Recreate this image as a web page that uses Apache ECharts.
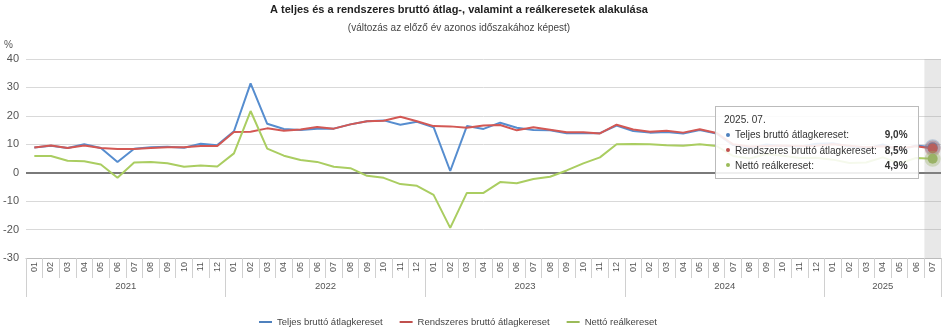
<!DOCTYPE html>
<html><head><meta charset="utf-8">
<script src="https://cdn.jsdelivr.net/npm/echarts/dist/echarts.min.js"></script>
<style>html,body{margin:0;padding:0;background:#fff}#c{width:946px;height:332px}</style>
</head><body><div id="c"></div>
<script>
// ---- data ----
const years = ['2021', '2022', '2023', '2024', '2025'];
const monthsPerYear = [12, 12, 12, 12, 7];
const monthLabels = ['01','02','03','04','05','06','07','08','09','10','11','12'];
const seriesNames = ['Teljes bruttó átlagkereset', 'Rendszeres bruttó átlagkereset', 'Nettó reálkereset'];
const teljes = [
  8.9, 9.5, 8.7, 10.0, 8.7, 3.8, 8.4, 9.0, 9.1, 8.8, 10.2, 9.7,
  14.6, 31.4, 17.2, 15.4, 15.0, 15.5, 15.5, 17.0, 18.1, 18.4, 16.9, 17.9,
  16.0, 0.6, 16.4, 15.4, 17.6, 15.8, 15.0, 14.9, 13.9, 14.0, 13.9, 16.6,
  14.7, 14.1, 14.3, 13.8, 15.0, 13.8, 9.7, 8.6, 9.9, 9.4, 9.1, 10.2,
  10.4, 9.2, 8.4, 9.9, 7.9, 9.6, 9.0
];
const rendszeres = [
  8.9, 9.6, 8.7, 9.6, 8.7, 8.3, 8.3, 8.7, 9.0, 9.0, 9.4, 9.4,
  14.3, 14.4, 15.6, 14.8, 15.2, 16.1, 15.5, 17.0, 18.1, 18.3, 19.7, 18.1,
  16.4, 16.3, 15.8, 16.6, 16.8, 14.9, 16.0, 15.1, 14.2, 14.2, 13.8, 16.9,
  15.2, 14.4, 14.8, 14.1, 15.3, 14.0, 10.0, 9.2, 9.4, 9.6, 9.4, 9.5,
  10.0, 9.5, 9.0, 9.3, 8.6, 9.3, 8.5
];
const netto = [
  5.9, 5.9, 4.2, 4.0, 2.9, -1.8, 3.6, 3.8, 3.3, 2.1, 2.5, 2.2,
  6.8, 21.7, 8.5, 6.0, 4.5, 3.8, 2.1, 1.6, -1.1, -1.8, -4.0, -4.6,
  -7.8, -19.4, -7.1, -7.1, -3.3, -3.7, -2.2, -1.4, 0.8, 3.3, 5.4, 10.0,
  10.1, 10.0, 9.7, 9.5, 10.0, 9.4, 5.9, 5.0, 6.6, 6.0, 5.2, 5.3,
  4.6, 3.4, 3.6, 5.4, 3.3, 5.2, 4.9
];
const yMin = -30, yMax = 40, yStep = 10;
const colors = ['#4F81BD', '#C0504D', '#9BBB59'];
const halo = ['rgba(79,129,189,0.35)', 'rgba(192,80,77,0.35)', 'rgba(155,187,89,0.35)'];

// ---- derived axes ----
const categories = [];
years.forEach((y, yi) => { for (let m = 0; m < monthsPerYear[yi]; m++) categories.push(y + '. ' + monthLabels[m] + '.'); });
const yearAxisData = new Array(categories.length * 2 + 1).fill('');
const boundaries = new Set([0]);
let start = 0;
years.forEach((y, yi) => {
  yearAxisData[start * 2 + monthsPerYear[yi]] = y;
  start += monthsPerYear[yi];
  boundaries.add(start * 2);
});

const FONT = '"Liberation Sans", Arial, sans-serif';
const fmt = v => v.toFixed(1).replace('.', ',') + '%';
const allData = [teljes, rendszeres, netto];

const chart = echarts.init(document.getElementById('c'), null, {renderer: 'canvas'});
chart.setOption({
  animation: false,
  textStyle: {fontFamily: FONT},
  title: {
    text: 'A teljes és a rendszeres bruttó átlag-, valamint a reálkeresetek alakulása',
    subtext: '(változás az előző év azonos időszakához képest)',
    left: 454, top: -1, textAlign: 'center', itemGap: 8,
    textStyle: {fontFamily: FONT, fontSize: 11, fontWeight: 'bold', color: '#222'},
    subtextStyle: {fontFamily: FONT, fontSize: 10, color: '#444'}
  },
  legend: {
    left: 254, top: 312, icon: 'rect', itemWidth: 13, itemHeight: 2, itemGap: 17,
    textStyle: {fontFamily: FONT, fontSize: 9.5, color: '#444'},
    data: seriesNames
  },
  grid: {left: 26, right: 5, top: 59, bottom: 74, containLabel: false},
  tooltip: {
    trigger: 'axis',
    alwaysShowContent: true,
    position: [715, 106],
    axisPointer: {type: 'shadow', shadowStyle: {color: 'rgba(150,150,150,0.22)'}},
    backgroundColor: 'rgba(255,255,255,0.88)',
    borderColor: '#bbb', borderWidth: 1, padding: [5, 10, 5, 8],
    extraCssText: 'box-shadow:none;border-radius:0;',
    textStyle: {fontFamily: FONT, fontSize: 10, color: '#333'},
    formatter: params => {
      let h = '<div style="font-family:' + FONT.replace(/"/g, "'") + ';font-size:10px;line-height:15.3px;color:#333">';
      h += '<div>' + params[0].axisValue + '</div><table style="border-collapse:collapse;font-size:10px;line-height:15.3px">';
      params.forEach(p => {
        h += '<tr><td style="padding:0;white-space:nowrap"><span style="display:inline-block;width:4px;height:4px;border-radius:2px;background:' + p.color + ';margin:0 5px 2px 2px;vertical-align:middle"></span>' + p.seriesName + ':</td>' +
             '<td style="padding:0 0 0 8px;text-align:right;font-weight:bold">' + fmt(p.value) + '</td></tr>';
      });
      return h + '</table></div>';
    }
  },
  xAxis: [{
    type: 'category', data: categories, position: 'bottom', offset: 0, boundaryGap: true,
    axisLine: {onZero: false, lineStyle: {color: '#bbb', width: 1}},
    axisTick: {show: true, interval: 0, length: 20, lineStyle: {color: '#d0d0d0'}},
    axisLabel: {interval: 0, rotate: 90, margin: 4, fontSize: 9, color: '#555', fontFamily: FONT,
      formatter: v => v.slice(6, 8)},
    splitLine: {show: false}
  }, {
    type: 'category', data: yearAxisData, position: 'bottom', offset: 0, boundaryGap: false,
    axisLine: {show: false, onZero: false},
    axisTick: {show: true, length: 39, interval: i => boundaries.has(i), lineStyle: {color: '#d0d0d0'}},
    axisLabel: {interval: (i, v) => v !== '', margin: 23, fontSize: 9.5, color: '#555', fontFamily: FONT},
    axisPointer: {show: false},
    splitLine: {show: false}
  }],
  yAxis: {
    type: 'value', min: yMin, max: yMax, interval: yStep,
    name: '%', nameLocation: 'end', nameGap: 9,
    nameTextStyle: {fontFamily: FONT, fontSize: 10, color: '#555', align: 'right', padding: [0, 13, 0, 0]},
    axisLine: {show: false}, axisTick: {show: false},
    axisLabel: {fontSize: 11, color: '#555', margin: 7, fontFamily: FONT},
    splitLine: {lineStyle: {color: '#d9d9d9', width: 1}}
  },
  series: seriesNames.map((name, si) => ({
    name, type: 'line', xAxisIndex: 0, data: allData[si],
    color: colors[si], showSymbol: false, symbol: 'circle', symbolSize: 10,
    lineStyle: {width: 2, color: colors[si]},
    itemStyle: {color: colors[si]},
    emphasis: {scale: false, focus: 'none', lineStyle: {width: 2}, itemStyle: {color: colors[si], borderColor: halo[si], borderWidth: 6}},
    markLine: si === 0 ? {silent: true, symbol: 'none', z: 1, label: {show: false},
      lineStyle: {color: '#7a7a7a', width: 2, type: 'solid'}, data: [{yAxis: 0}]} : undefined,
    z: 3
  }))
});
chart.dispatchAction({type: 'showTip', seriesIndex: 0, dataIndex: categories.length - 1});
</script>
</body></html>
